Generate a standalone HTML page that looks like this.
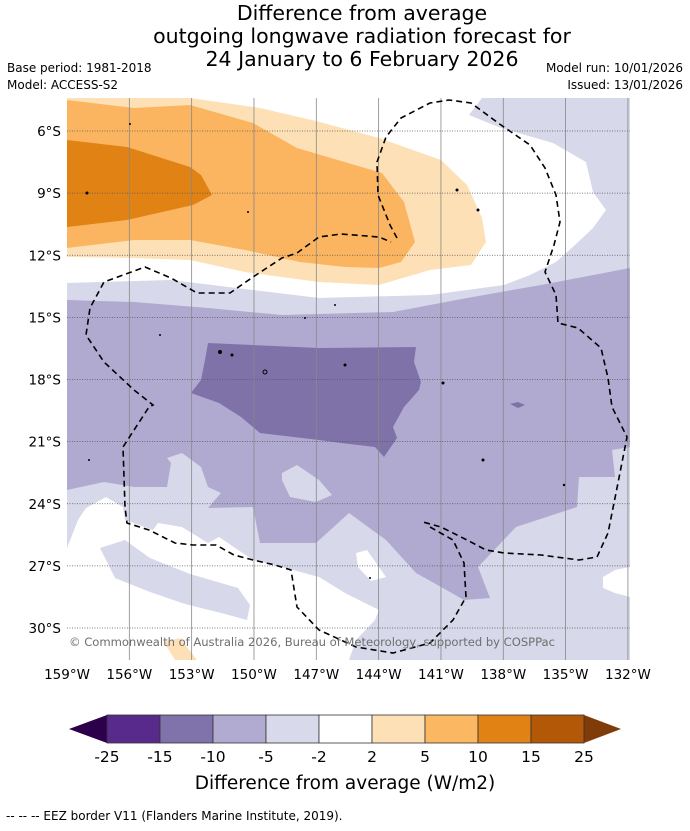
<!DOCTYPE html>
<html><head><meta charset="utf-8"><style>
body{margin:0;background:#fff;font-family:"DejaVu Sans","Liberation Sans",sans-serif;}
svg text{font-family:"DejaVu Sans","Liberation Sans",sans-serif;}
</style></head><body>
<svg id="fig" width="690" height="827" viewBox="0 0 690 827" xmlns="http://www.w3.org/2000/svg">
<g font-size="20.5" text-anchor="middle" fill="#000">
<text x="362" y="20">Difference from average</text>
<text x="362" y="43">outgoing longwave radiation forecast for</text>
<text x="362" y="66">24 January to 6 February 2026</text>
</g>
<g font-size="12" fill="#000">
<text x="7" y="72">Base period: 1981-2018</text>
<text x="7" y="89">Model: ACCESS-S2</text>
<text x="683" y="72" text-anchor="end">Model run: 10/01/2026</text>
<text x="683" y="89" text-anchor="end">Issued: 13/01/2026</text>
</g>
<defs><clipPath id="mapclip"><rect x="67" y="98" width="563" height="562"/></clipPath></defs>
<g clip-path="url(#mapclip)">
<rect x="67" y="98" width="563" height="562" fill="#d7d8e9"/>
<polygon fill="#fff" points="67,98 482,98 469,115 501,128 553,143 586,162 593,192 606,210 593,228 575,245 556,262 530,275 504,285 430,295 319,298 171,280 67,283"/>
<polygon fill="#b0aad0" points="67,300 134,302 208,308 282,315 393,312 467,298 541,285 630,268 630,447 612,450 615,477 579,477 577,507 516,527 478,567 490,598 464,600 434,583 416,573 386,540 349,513 316,543 260,543 253,507 208,508 221,493 208,487 201,467 182,453 167,458 171,463 167,487 134,487 104,482 67,490"/>
<polygon fill="#d7d8e9" points="282,473 297,465 319,480 332,495 316,502 290,497 282,480"/>
<polygon fill="#7f72a9" points="208,343 319,348 416,347 414,362 421,382 419,390 404,407 393,427 397,438 384,457 375,447 341,443 319,440 260,433 241,417 219,403 191,393 201,380 205,360"/>
<polygon fill="#7f72a9" points="510,404 518,402 525,405 518,408"/>
<polygon fill="#fff" points="67,548 78,520 86,508 106,497 123,507 125,520 153,530 158,523 182,527 208,543 219,537 253,560 282,567 319,577 345,593 379,610 375,620 356,640 349,660 67,660"/>
<polygon fill="#d7d8e9" points="100,548 125,540 150,558 190,574 238,588 250,605 247,620 225,614 185,604 150,592 115,578"/>
<polygon fill="#fff" points="356,553 367,550 386,577 371,581 358,567"/>
<polygon fill="#fff" points="603,577 615,570 630,567 630,597 615,593 603,588"/>
<polygon fill="#fde0b5" points="67,98 190,98 260,108 316,121 379,138 441,160 467,185 482,218 486,242 471,265 430,270 379,285 319,282 245,272 190,260 134,258 67,257"/>
<polygon fill="#fbb561" points="67,100 134,108 190,105 253,123 297,148 382,173 404,202 415,242 401,262 379,268 345,267 300,262 245,250 190,240 134,240 67,248"/>
<polygon fill="#e08214" points="67,140 127,147 190,167 201,175 212,195 193,205 127,220 67,227"/>
<polygon fill="#fde0b5" points="164,642 180,638 197,660 175,660"/>
<g id="grid"></g>
<g fill="none" stroke="#000" stroke-width="1.6" stroke-dasharray="6,4">
<polyline points="397,238 390,225 378,195 377,162 386,137 401,118 430,103 449,100 471,103 501,125 530,145 545,168 556,195 560,222 554,245 545,272 556,295 558,323 578,328 601,348 608,378 612,407 627,437 616,493 608,533 597,557 579,560 541,555 504,553 486,550 467,540 441,527 423,522"/>
<polyline points="430,527 453,540 464,563 466,597 453,620 430,643 393,653 356,647 319,630 297,607 291,570 275,565 253,560 234,555 216,545 193,545 175,543 149,530 127,523 125,507 123,447 149,407 153,405 134,390 104,362 86,335 90,308 104,282 145,267 171,278 197,293 230,293 253,277 282,258 297,253 319,237 341,234 379,237 391,242"/>
</g>
<g fill="#000">
<circle cx="87" cy="193" r="1.5"/><circle cx="130" cy="124" r="1"/><circle cx="248" cy="212" r="1"/>
<circle cx="220" cy="352" r="2"/><circle cx="232" cy="355" r="1.5"/><circle cx="265" cy="372" r="2" fill="none" stroke="#000"/>
<circle cx="345" cy="365" r="1.5"/><circle cx="305" cy="318" r="1"/><circle cx="335" cy="305" r="1"/>
<circle cx="457" cy="190" r="1.5"/><circle cx="478" cy="210" r="1.5"/><circle cx="443" cy="383" r="1.5"/>
<circle cx="483" cy="460" r="1.5"/><circle cx="564" cy="485" r="1.2"/><circle cx="89" cy="460" r="1"/>
<circle cx="370" cy="578" r="1"/><circle cx="160" cy="335" r="1"/>
</g>
<text x="69" y="646" font-size="11.6" fill="#6f6f6f" textLength="486">© Commonwealth of Australia 2026, Bureau of Meteorology, supported by COSPPac</text>
</g>
<g id="axes"></g>
<g id="cbar"></g>
<text x="345" y="789" font-size="18.5" text-anchor="middle">Difference from average (W/m2)</text>
<text x="6" y="820" font-size="12">--  --  -- EEZ border V11 (Flanders Marine Institute, 2019).</text>
</svg>
<script>
const lonTicks = [-159,-156,-153,-150,-147,-144,-141,-138,-135,-132];
const lonLabels = ["159°W","156°W","153°W","150°W","147°W","144°W","141°W","138°W","135°W","132°W"];
const latTicks = [-6,-9,-12,-15,-18,-21,-24,-27,-30];
const latLabels = ["6°S","9°S","12°S","15°S","18°S","21°S","24°S","27°S","30°S"];
const levels = [-25,-15,-10,-5,-2,2,5,10,15,25];
const levelColors = ["#582a8c","#8072aa","#b1abd1","#d8d9ea","#ffffff","#fee0b6","#fbb762","#e08214","#b35806"];
const extColors = ["#2d004b","#7f3b08"];

const NS="http://www.w3.org/2000/svg";
const xLon = lon => 67 + (lon + 159) * (563/27.1);
const yLat = lat => 131 + (-6 - lat) * (497/24);
function mk(tag, attrs, parent){const e=document.createElementNS(NS,tag);for(const k in attrs)e.setAttribute(k,attrs[k]);parent.appendChild(e);return e;}
const grid=document.getElementById('grid'), axes=document.getElementById('axes'), cbar=document.getElementById('cbar');
lonTicks.forEach((lon,i)=>{
  const x=xLon(lon);
  if(i>0){const l=mk('line',{x1:x,x2:x,y1:98,y2:660,stroke:'#888','stroke-width':0.8},grid);
  
  }
  const t=mk('text',{x:x,y:679,'font-size':13.5,'text-anchor':'middle'},axes);
  t.textContent=lonLabels[i];
  
  
});
latTicks.forEach((lat,i)=>{
  const y=yLat(lat);
  const l=mk('line',{x1:67,x2:630,y1:y,y2:y,stroke:'#555','stroke-width':0.8,'stroke-dasharray':'1,1.5'},grid);
  
  
  const t=mk('text',{x:61,y:y+5,'font-size':13.5,'text-anchor':'end'},axes);
  t.textContent=latLabels[i];
  
  
});
const cx0=107, cx1=584, cy0=715, cy1=743, n=levelColors.length, bw=(cx1-cx0)/n;
const lt=mk('polygon',{points:`${cx0},${cy0} 69,${(cy0+cy1)/2} ${cx0},${cy1}`,fill:extColors[0]},cbar);


const rt=mk('polygon',{points:`${cx1},${cy0} 621,${(cy0+cy1)/2} ${cx1},${cy1}`,fill:extColors[1]},cbar);


levelColors.forEach((c,i)=>{
  const r=mk('rect',{x:cx0+i*bw,y:cy0,width:bw,height:cy1-cy0,fill:c,stroke:'#333','stroke-width':0.8},cbar);
  
  
});
levels.forEach((v,i)=>{
  const t=mk('text',{x:cx0+i*bw,y:762,'font-size':15.5,'text-anchor':'middle'},cbar);
  t.textContent=String(v);
  
  
});
</script>
</body></html>
